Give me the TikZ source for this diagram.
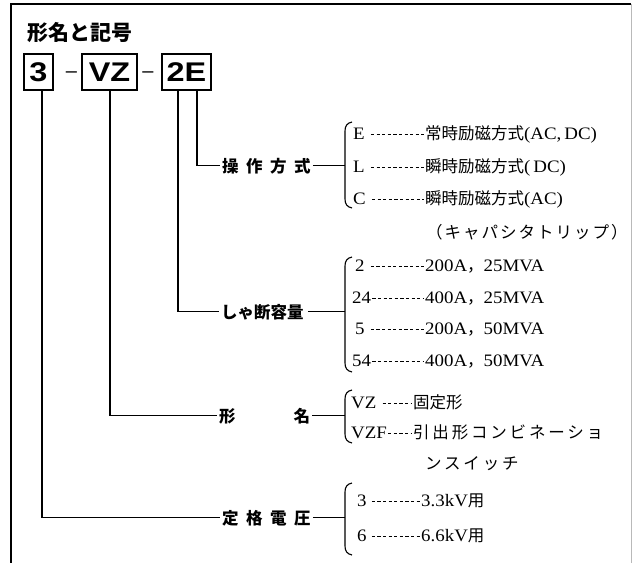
\documentclass[tikz,border=0pt]{standalone}
\usepackage{fontspec}
\setmainfont{Liberation Serif}
\newfontfamily\jp{Noto Sans CJK JP}
\newfontfamily\jpk[LetterSpace=17]{Noto Sans CJK JP}
\newfontfamily\jpkk[LetterSpace=12]{Noto Sans CJK JP}
\newfontfamily\ser[FakeStretch=1.08]{Liberation Serif}
\newfontfamily\boxf[FakeStretch=1.2]{Liberation Sans Bold}
\newfontfamily\sansf{Liberation Sans}
\newcommand\leader[3]{\draw[lead] ([shift={(#3,4.8pt)}]#1.base east) -- ([shift={(-1pt,4.8pt)}]#2.base west);}
\begin{document}
\begin{tikzpicture}[x=1pt,y=-1pt,
  frame/.style={line width=1.6pt},
  conn/.style={line width=1.3pt},
  brc/.style={line width=1.1pt},
  lead/.style={line width=0.75pt, dash pattern=on 3.2pt off 2.4pt},
  codebox/.style={draw, line width=1.6pt, inner sep=0pt, minimum height=36pt, font=\fontsize{27}{30}\selectfont\boxf},
  dashtxt/.style={anchor=base, inner sep=0pt, font=\fontsize{20}{22}\selectfont\sansf},
  lbl/.style={anchor=base west, inner sep=0pt, font=\fontsize{16.5}{18}\selectfont\jp\bfseries},
  item/.style={anchor=base west, inner sep=0pt, font=\fontsize{17.5}{19}\selectfont\ser},
  jpt/.style={font=\fontsize{16.5}{18}\selectfont\jp}]
\useasboundingbox (0,0) rectangle (633,563);
% frame
\draw[frame] (11,563) -- (11,4) -- (631,4);
\draw[line width=0.8pt, gray!55] (631,4) -- (631,563);
% title
\node[anchor=base west, inner sep=0pt, font=\fontsize{21}{23}\selectfont\jp\bfseries] (title) at (27,40) {形名と記号};
% code boxes
\node[codebox, minimum width=29pt] (b3) at (38.5,72) {3};
\node[dashtxt] (d1) at (71.5,77.6) {–};
\node[codebox, minimum width=55pt] (bvz) at (109.5,72) {VZ};
\node[dashtxt] (d2) at (148,77.6) {–};
\node[codebox, minimum width=49pt] (b2e) at (186.5,72) {2E};
% labels
\node[lbl] (lsousa) at (222,172) {操\hspace{7.5pt}作\hspace{7.5pt}方\hspace{7.5pt}式};
\node[lbl] (lshadan) at (221,318) {しゃ断容量};
\node[lbl] (lkeimei) at (219,422) {形\hspace{58pt}名};
\node[lbl] (lteikaku) at (222,524) {定\hspace{7.5pt}格\hspace{7.5pt}電\hspace{7.5pt}圧};
% tree connectors
\draw[conn] ([xshift=10.5pt]b2e.south) |- ([xshift=-2pt]lsousa.west);
\draw[conn] ([xshift=-8.5pt]b2e.south) |- ([xshift=-2pt]lshadan.west);
\draw[conn] ([xshift=0.5pt]bvz.south) |- ([xshift=-2pt]lkeimei.west);
\draw[conn] ([xshift=3.5pt]b3.south) |- ([xshift=-2pt]lteikaku.west);
% brace junctions
\coordinate (j1) at (345,166);
\coordinate (j2) at (345,312);
\coordinate (j3) at (345,416);
\coordinate (j4) at (345,518);
\draw[conn] ([xshift=2pt]lsousa.east) -- (lsousa.east -| j1);
\draw[conn] ([xshift=4pt]lshadan.east) -- (lshadan.east -| j2);
\draw[conn] ([xshift=2pt]lkeimei.east) -- (lkeimei.east -| j3);
\draw[conn] ([xshift=2pt]lteikaku.east) -- (lteikaku.east -| j4);
% braces
\draw[brc] (352,122) .. controls (347,123) and (345,126) .. (345,131) -- (345,199) .. controls (345,204) and (347,207) .. (352,208);
\draw[brc] (352,257) .. controls (347,258) and (345,261) .. (345,266) -- (345,363) .. controls (345,368) and (347,371) .. (352,372);
\draw[brc] (352,390) .. controls (347,391) and (345,394) .. (345,399) -- (345,434) .. controls (345,439) and (347,442) .. (352,443);
\draw[brc] (352,483) .. controls (347,484) and (345,487) .. (345,492) -- (345,546) .. controls (345,551) and (347,554) .. (352,555);
% group 1: operation
\node[item] (kE) at (353,139) {E};
\node[item] (vE) at (425,139) {{\fontsize{16.5}{18}\selectfont\jp 常時励磁方式}(AC,\,DC)};
\node[item] (kL) at (353,172) {L};
\node[item] (vL) at (425,172) {{\fontsize{16.5}{18}\selectfont\jp 瞬時励磁方式}(\,DC)};
\node[item] (kC) at (353,204) {C};
\node[item] (vC) at (425,204) {{\fontsize{16.5}{18}\selectfont\jp 瞬時励磁方式}(AC)};
\node[item] (vCa) at (426,238) {{\fontsize{16.5}{18}\selectfont\jpkk （キャパシタトリップ）}};
\leader{kE}{vE}{6pt}
\leader{kL}{vL}{6pt}
\leader{kC}{vC}{6pt}
% group 2: breaking capacity
\node[item] (k2) at (355,271) {2};
\node[item] (v2) at (425,271) {200A{\fontsize{16.5}{18}\selectfont\jp ，}25MVA};
\node[item] (k24) at (352,303) {24};
\node[item] (v24) at (425,303) {400A{\fontsize{16.5}{18}\selectfont\jp ，}25MVA};
\node[item] (k5) at (355,334) {5};
\node[item] (v5) at (425,334) {200A{\fontsize{16.5}{18}\selectfont\jp ，}50MVA};
\node[item] (k54) at (352,366) {54};
\node[item] (v54) at (425,366) {400A{\fontsize{16.5}{18}\selectfont\jp ，}50MVA};
\leader{k2}{v2}{6pt}
\leader{k24}{v24}{1pt}
\leader{k5}{v5}{6pt}
\leader{k54}{v54}{1pt}
% group 3: type name
\node[item] (kVZ) at (351,408) {VZ};
\node[item] (vVZ) at (413,408) {{\fontsize{16.5}{18}\selectfont\jp 固定形}};
\node[item] (kVZF) at (351,438) {VZF};
\node[item] (vVZF) at (413,438) {{\fontsize{16.5}{18}\selectfont\jpk 引出形コンビネーショ}};
\node[item] (vVZFb) at (425,469) {{\fontsize{16.5}{18}\selectfont\jpk ンスイッチ}};
\leader{kVZ}{vVZ}{6pt}
\leader{kVZF}{vVZF}{1pt}
% group 4: rated voltage
\node[item] (k3) at (357,506) {3};
\node[item] (v3) at (421,506) {3.3kV{\fontsize{16.5}{18}\selectfont\jp 用}};
\node[item] (k6) at (357,541) {6};
\node[item] (v6) at (421,541) {6.6kV{\fontsize{16.5}{18}\selectfont\jp 用}};
\leader{k3}{v3}{5pt}
\leader{k6}{v6}{5pt}
\end{tikzpicture}
\end{document}
